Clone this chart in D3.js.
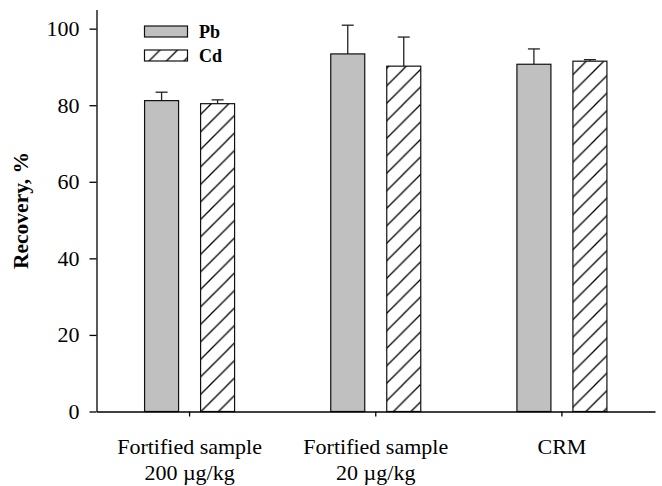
<!DOCTYPE html>
<html>
<head>
<meta charset="utf-8">
<script src="https://cdn.jsdelivr.net/npm/d3@7"></script>
<style>
  body { margin: 0; background: #fff; }
  svg { display: block; font-family: "Liberation Serif", "Times New Roman", serif; }
</style>
</head>
<body>
<svg id="chart" width="662" height="486"></svg>
<script>
const categories = [
  ["Fortified sample", "200 \u00b5g/kg"],
  ["Fortified sample", "20 \u00b5g/kg"],
  ["CRM"]
];
const seriesNames = ["Pb", "Cd"];
const pbValues = [81.2, 93.4, 90.7];
const pbErrors = [2.2, 7.5, 4.0];
const cdValues = [80.4, 90.2, 91.5];
const cdErrors = [1.0, 7.6, 0.4];
const yTicks = [0, 20, 40, 60, 80, 100];

const svg = d3.select("#chart");
const width = 662, height = 486;
const margin = { top: 9.5, right: 7, bottom: 74.5, left: 96.5 };
const x0Range = [margin.left, width - margin.right];
const yBottom = height - margin.bottom;
const serif = "'Liberation Serif', 'Times New Roman', serif";

const catKeys = categories.map((c, i) => "c" + i);

const x0 = d3.scaleBand()
  .domain(catKeys)
  .range(x0Range)
  .padding(0);

const x1 = d3.scaleBand()
  .domain(seriesNames)
  .range([-45, 45])
  .paddingInner(0.393)
  .paddingOuter(0);

const y = d3.scaleLinear()
  .domain([0, 105])
  .range([yBottom, margin.top]);

// hatch pattern for Cd
const defs = svg.append("defs");
const hs = 17.5;
const pat = defs.append("pattern")
  .attr("id", "hatch")
  .attr("patternUnits", "userSpaceOnUse")
  .attr("width", hs)
  .attr("height", hs);
pat.append("rect").attr("width", hs).attr("height", hs).attr("fill", "#fff");
pat.append("path")
  .attr("d", `M0,${hs} L${hs},0 M-3,3 L3,-3 M${hs - 3},${hs + 3} L${hs + 3},${hs - 3}`)
  .attr("stroke", "#000")
  .attr("stroke-width", 1.3);

const fills = { Pb: "#c0c0c0", Cd: "url(#hatch)" };

const rows = [];
catKeys.forEach((k, i) => {
  rows.push({ cat: k, series: "Pb", value: pbValues[i], err: pbErrors[i] });
  rows.push({ cat: k, series: "Cd", value: cdValues[i], err: cdErrors[i] });
});

const barX = d => x0(d.cat) + x0.bandwidth() / 2 + x1(d.series);

// error bars (upper only)
const eb = svg.append("g").attr("class", "errors")
  .attr("stroke", "#222")
  .attr("stroke-width", 1.3);

eb.selectAll("line.stem")
  .data(rows)
  .enter().append("line")
  .attr("class", "stem")
  .attr("x1", d => barX(d) + x1.bandwidth() / 2)
  .attr("x2", d => barX(d) + x1.bandwidth() / 2)
  .attr("y1", d => y(d.value))
  .attr("y2", d => y(d.value + d.err));

eb.selectAll("line.cap")
  .data(rows)
  .enter().append("line")
  .attr("class", "cap")
  .attr("x1", d => barX(d) + x1.bandwidth() / 2 - 6)
  .attr("x2", d => barX(d) + x1.bandwidth() / 2 + 6)
  .attr("y1", d => y(d.value + d.err))
  .attr("y2", d => y(d.value + d.err));

// bars
svg.append("g").attr("class", "bars")
  .selectAll("rect")
  .data(rows)
  .enter().append("rect")
  .attr("x", barX)
  .attr("y", d => y(d.value))
  .attr("width", x1.bandwidth())
  .attr("height", d => y(0) - y(d.value))
  .attr("fill", d => fills[d.series])
  .attr("stroke", "#111")
  .attr("stroke-width", 1.2);

// y axis
const yAxis = svg.append("g")
  .attr("transform", `translate(${margin.left},0)`)
  .call(d3.axisLeft(y).tickValues(yTicks).tickSize(7).tickSizeOuter(0).tickPadding(10));
yAxis.attr("font-family", null).attr("font-size", null);
yAxis.selectAll(".tick text")
  .style("font-size", "22px")
  .attr("fill", "#000")
  .style("font-family", serif);
yAxis.selectAll("path, line").attr("stroke", "#000").attr("stroke-width", 1.3);

// x axis
const xAxis = svg.append("g")
  .attr("transform", `translate(0,${yBottom})`)
  .call(d3.axisBottom(x0).tickSize(5).tickSizeOuter(0));
xAxis.attr("font-family", null).attr("font-size", null);
xAxis.selectAll("path, line").attr("stroke", "#000").attr("stroke-width", 1.3);
xAxis.selectAll(".tick text").remove();
xAxis.selectAll(".tick").each(function (d, i) {
  const t = d3.select(this).append("text")
    .attr("fill", "#000")
    .attr("text-anchor", "middle")
    .style("font-size", "22px")
    .style("font-family", serif);
  categories[i].forEach((line, j) => {
    t.append("tspan").attr("x", 0).attr("y", 42 + j * 26).text(line);
  });
});

// y label
svg.append("text")
  .attr("transform", "rotate(-90)")
  .attr("x", -(yBottom + margin.top) / 2)
  .attr("y", 28)
  .attr("text-anchor", "middle")
  .style("font-size", "21.5px")
  .style("font-weight", "bold")
  .style("font-family", serif)
  .text("Recovery, %");

// legend
const legend = svg.append("g").attr("class", "legend");
seriesNames.forEach((s, i) => {
  const ly = 26 + i * 24;
  legend.append("rect")
    .attr("x", 144.5)
    .attr("y", ly)
    .attr("width", 43)
    .attr("height", 11)
    .attr("fill", fills[s])
    .attr("stroke", "#111")
    .attr("stroke-width", 1.2);
  legend.append("text")
    .attr("x", 199)
    .attr("y", ly + 11.5)
    .style("font-size", "18px")
    .style("font-weight", "bold")
    .style("font-family", serif)
    .text(s);
});
</script>
</body>
</html>
